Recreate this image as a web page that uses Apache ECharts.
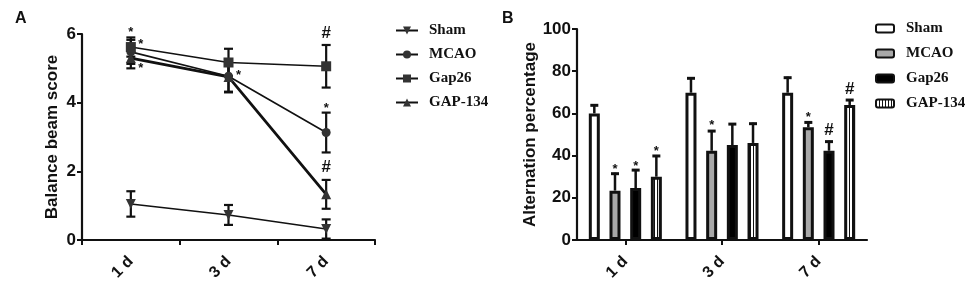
<!DOCTYPE html>
<html><head><meta charset="utf-8">
<script src="https://cdn.jsdelivr.net/npm/echarts@6/dist/echarts.min.js"></script>
<style>html,body{margin:0;padding:0;background:#fff}#c{width:976px;height:285px}</style>
</head><body><div id="c"></div>
<script>
// ---------- DATA ----------
const categories = ['1 d', '3 d', '7 d'];
const groups = ['Sham', 'MCAO', 'Gap26', 'GAP-134'];
const yTicksA = [0, 2, 4, 6];
const yTicksB = [0, 20, 40, 60, 80, 100];

// Panel A: balance beam score (mean, SEM)
const shamA = [1.05, 0.73, 0.32];
const shamAErr = [0.37, 0.29, 0.28];
const mcaoA = [5.48, 4.77, 3.13];
const mcaoAErr = [0.35, 0.45, 0.58];
const gap26A = [5.62, 5.17, 5.06];
const gap26AErr = [0.28, 0.40, 0.62];
const gap134A = [5.30, 4.75, 1.33];
const gap134AErr = [0.30, 0.45, 0.42];

// Panel B: alternation percentage (mean, upper SEM)
const shamB = [60, 69.8, 69.8];
const shamBErr = [4.3, 7.3, 7.6];
const mcaoB = [23.4, 42.3, 53.4];
const mcaoBErr = [8.5, 9.8, 2.8];
const gap26B = [24.6, 45, 42.3];
const gap26BErr = [9.0, 10.4, 4.8];
const gap134B = [30, 46, 64];
const gap134BErr = [10.3, 9.6, 2.8];

// significance marks: [categoryIndex, value level, mark, side]
const marksA = [
  [0, 6.15, '*', 'c'], [0, 5.80, '*', 'r'], [0, 5.10, '*', 'r'],
  [1, 4.90, '*', 'r'],
  [2, 6.03, '#', 'c'], [2, 3.94, '*', 'c'], [2, 2.13, '#', 'c']
];
// [categoryIndex, group index, value level, mark]
const marksB = [
  [0, 1, 35.5, '*'], [0, 2, 37, '*'], [0, 3, 44, '*'],
  [1, 1, 56, '*'],
  [2, 1, 60, '*'], [2, 2, 52, '#'], [2, 3, 71.5, '#']
];

// ---------- STYLE ----------
const INK = '#111';
const SANS = 'Liberation Sans, Arial, sans-serif';
const SERIF = 'Liberation Serif, Times New Roman, serif';
const BAR_W = 11, BAR_GAP = 0.88;

function stripePattern() {
  const cv = document.createElement('canvas');
  cv.width = 3; cv.height = 3;
  const g = cv.getContext('2d');
  g.fillStyle = '#fff'; g.fillRect(0, 0, 3, 3);
  g.fillStyle = '#111'; g.fillRect(0, 0, 1, 3);
  return { image: cv, repeat: 'repeat' };
}

const chart = echarts.init(document.getElementById('c'), null, { renderer: 'canvas' });

function errA(vals, errs) { return vals.map((v, i) => [i, v - errs[i], v + errs[i]]); }
function errB(vals, errs) { return vals.map((v, i) => [i, v, v + errs[i]]); }

function renderErrA(params, api) {
  const x = api.value(0);
  const lo = api.coord([x, api.value(1)]);
  const hi = api.coord([x, api.value(2)]);
  const w = 4.5;
  const st = { stroke: INK, lineWidth: 2.2 };
  return { type: 'group', children: [
    { type: 'line', shape: { x1: lo[0], y1: lo[1], x2: hi[0], y2: hi[1] }, style: st },
    { type: 'line', shape: { x1: lo[0] - w, y1: lo[1], x2: lo[0] + w, y2: lo[1] }, style: st },
    { type: 'line', shape: { x1: hi[0] - w, y1: hi[1], x2: hi[0] + w, y2: hi[1] }, style: st }
  ]};
}

function barOffset(gi) { return (gi - 1.5) * (BAR_W + BAR_W * BAR_GAP); }

function makeErrB(gi) {
  return function (params, api) {
    const x = api.value(0);
    const lo = api.coord([x, api.value(1)]);
    const hi = api.coord([x, api.value(2)]);
    const dx = barOffset(gi);
    const w = 4;
    return { type: 'group', children: [
      { type: 'line', shape: { x1: lo[0] + dx, y1: lo[1], x2: hi[0] + dx, y2: hi[1] }, style: { stroke: INK, lineWidth: 2.5 } },
      { type: 'line', shape: { x1: hi[0] + dx - w, y1: hi[1] + 1, x2: hi[0] + dx + w, y2: hi[1] + 1 }, style: { stroke: INK, lineWidth: 3 } }
    ]};
  };
}

function renderMarksA(params, api) {
  const m = marksA[params.dataIndex];
  const p = api.coord([m[0], m[1]]);
  const dx = m[3] === 'r' ? 10 : 0;
  const star = m[2] === '*';
  return { type: 'text', x: p[0] + dx, y: p[1] + (star ? 4 : 0), style: {
    text: m[2], fill: INK, align: 'center', verticalAlign: 'middle',
    font: (star ? 'bold 13px ' : 'bold 17px ') + SANS } };
}
function renderMarksB(params, api) {
  const m = marksB[params.dataIndex];
  const p = api.coord([m[0], m[2]]);
  const star = m[3] === '*';
  return { type: 'text', x: p[0] + barOffset(m[1]), y: p[1] + (star ? 4 : 0), style: {
    text: m[3], fill: INK, align: 'center', verticalAlign: 'middle',
    font: (star ? 'bold 13px ' : 'bold 17px ') + SANS } };
}

const axisLine = { show: true, lineStyle: { color: INK, width: 2.2 } };
const axisTick = { show: true, length: 5, lineStyle: { color: INK, width: 2 } };
const tickLabel = { color: INK, fontFamily: SANS, fontWeight: 'bold', fontSize: 17, margin: 6 };
const xLabel = { color: INK, fontFamily: SANS, fontWeight: 'bold', fontSize: 16, rotate: 45, margin: 19 };

const lineCommon = (name, data, symbol, rot, width) => ({
  name, type: 'line', xAxisIndex: 0, yAxisIndex: 0, data,
  symbol, symbolSize: symbol === 'circle' ? 9 : 10, symbolRotate: rot,
  lineStyle: { color: INK, width }, itemStyle: { color: '#333' },
  z: 3, animation: false
});

const barCommon = (name, data, color) => ({
  name: 'B-' + name, type: 'bar', xAxisIndex: 1, yAxisIndex: 1, data,
  barWidth: BAR_W, barGap: (BAR_GAP * 100) + '%',
  itemStyle: { color, borderColor: INK, borderWidth: 3 },
  z: 2, animation: false
});

const option = {
  animation: false,
  backgroundColor: '#fff',
  title: [
    { text: 'A', left: 10, top: 6, textStyle: { fontFamily: SANS, fontWeight: 'bold', fontSize: 16, color: INK } },
    { text: 'B', left: 497, top: 6, textStyle: { fontFamily: SANS, fontWeight: 'bold', fontSize: 16, color: INK } }
  ],
  legend: [
    { data: groups, left: 390, top: 18, orient: 'vertical', itemWidth: 22, itemHeight: 10, itemGap: 9,
      textStyle: { fontFamily: SERIF, fontWeight: 'bold', fontSize: 15, color: INK, padding: [0, 0, 0, 6] } },
    { data: groups.map(g => 'B-' + g), formatter: n => n.replace('B-', ''),
      left: 870, top: 16, orient: 'vertical', itemWidth: 18, itemHeight: 8, itemGap: 10,
      textStyle: { fontFamily: SERIF, fontWeight: 'bold', fontSize: 15, color: INK, padding: [0, 0, 0, 7] } }
  ],
  grid: [
    { left: 82, top: 34, width: 293, bottom: 45 },
    { left: 577, top: 29, width: 290, bottom: 45 }
  ],
  xAxis: [
    { type: 'category', gridIndex: 0, data: categories, boundaryGap: true,
      axisLine, axisTick: { ...axisTick, alignWithLabel: false }, axisLabel: xLabel },
    { type: 'category', gridIndex: 1, data: categories, boundaryGap: true,
      axisLine, axisTick: { ...axisTick, alignWithLabel: true }, axisLabel: xLabel }
  ],
  yAxis: [
    { type: 'value', gridIndex: 0, min: yTicksA[0], max: yTicksA[yTicksA.length - 1], interval: 2,
      name: 'Balance beam score', nameLocation: 'middle', nameGap: 21, nameRotate: 90,
      nameTextStyle: { fontFamily: SANS, fontWeight: 'bold', fontSize: 17, color: INK },
      axisLine, axisTick, axisLabel: tickLabel, splitLine: { show: false } },
    { type: 'value', gridIndex: 1, min: yTicksB[0], max: yTicksB[yTicksB.length - 1], interval: 20,
      name: 'Alternation percentage', nameLocation: 'middle', nameGap: 36, nameRotate: 90,
      nameTextStyle: { fontFamily: SANS, fontWeight: 'bold', fontSize: 17, color: INK },
      axisLine, axisTick, axisLabel: tickLabel, splitLine: { show: false } }
  ],
  series: [
    ...[[shamA, shamAErr], [mcaoA, mcaoAErr], [gap26A, gap26AErr], [gap134A, gap134AErr]].map(([v, e]) => ({
      type: 'custom', xAxisIndex: 0, yAxisIndex: 0, renderItem: renderErrA,
      data: errA(v, e), encode: { x: 0, y: [1, 2] }, z: 2, silent: true, animation: false
    })),
    lineCommon('Sham', shamA, 'triangle', 180, 1.6),
    lineCommon('MCAO', mcaoA, 'circle', 0, 1.6),
    lineCommon('Gap26', gap26A, 'rect', 0, 1.6),
    lineCommon('GAP-134', gap134A, 'triangle', 0, 2.8),
    { type: 'custom', xAxisIndex: 0, yAxisIndex: 0, renderItem: renderMarksA,
      data: marksA.map(m => [m[0], m[1]]), encode: { x: 0, y: 1 }, z: 5, silent: true, animation: false },
    barCommon('Sham', shamB, '#ffffff'),
    barCommon('MCAO', mcaoB, '#a9a9a9'),
    barCommon('Gap26', gap26B, '#000000'),
    barCommon('GAP-134', gap134B, stripePattern()),
    ...[[shamB, shamBErr], [mcaoB, mcaoBErr], [gap26B, gap26BErr], [gap134B, gap134BErr]].map(([v, e], gi) => ({
      type: 'custom', xAxisIndex: 1, yAxisIndex: 1, renderItem: makeErrB(gi),
      data: errB(v, e), encode: { x: 0, y: [1, 2] }, z: 1, silent: true, animation: false
    })),
    { type: 'custom', xAxisIndex: 1, yAxisIndex: 1, renderItem: renderMarksB,
      data: marksB.map(m => [m[0], m[2]]), encode: { x: 0, y: 1 }, z: 5, silent: true, animation: false }
  ]
};
chart.setOption(option);
</script></body></html>
